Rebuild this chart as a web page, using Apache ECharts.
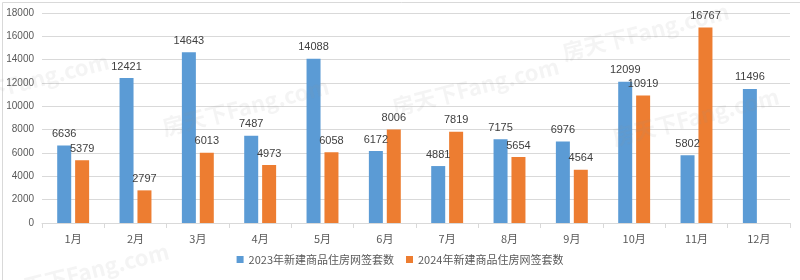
<!DOCTYPE html>
<html><head><meta charset="utf-8">
<script src="https://cdn.jsdelivr.net/npm/echarts@6/dist/echarts.min.js"></script>
<style>html,body{margin:0;padding:0;background:#fff}#c{width:800px;height:280px}</style>
</head><body><div id="c"></div>
<script>
const categories = ['1月','2月','3月','4月','5月','6月','7月','8月','9月','10月','11月','12月'];
const seriesNames = ['2023年新建商品住房网签套数','2024年新建商品住房网签套数'];
const values2023 = [6636,12421,14643,7487,14088,6172,4881,7175,6976,12099,5802,11496];
const values2024 = [5379,2797,6013,4973,6058,8006,7819,5654,4564,10919,16767,null];
const yTicks = [0,2000,4000,6000,8000,10000,12000,14000,16000,18000];

const chart = echarts.init(document.getElementById('c'));
const font = '"Noto Sans CJK SC", sans-serif';
const wm = (x,y,r)=>({type:'text',left:x,top:y,rotation:r,silent:true,z:100,
  style:{text:'房天下Fang.com',fill:'rgba(150,150,150,0.10)',font:'bold 22px "Noto Sans CJK SC", sans-serif'}});
chart.setOption({
  animation:false,
  textStyle:{fontFamily:font},
  grid:{left:42,right:10,top:13,bottom:57,containLabel:false},
  legend:{bottom:10,left:'center',itemWidth:7,itemHeight:7,itemGap:12,icon:'rect',
    textStyle:{color:'#595959',fontSize:11,fontFamily:font},data:seriesNames},
  xAxis:{type:'category',data:categories,
    axisLine:{lineStyle:{color:'#d9d9d9'}},
    axisTick:{show:true,length:5,lineStyle:{color:'#d9d9d9'}},
    axisLabel:{color:'#595959',fontSize:11,margin:10}},
  yAxis:{type:'value',min:yTicks[0],max:yTicks[yTicks.length-1],interval:2000,
    axisLine:{show:false},axisTick:{show:false},
    splitLine:{lineStyle:{color:'#d9d9d9'}},
    axisLabel:{color:'#595959',fontSize:10,margin:8,fontFamily:'"Liberation Sans", sans-serif',
      formatter:v=>String(v)}},
  series:[
    {name:seriesNames[0],type:'bar',data:values2023,barWidth:14,barGap:'28%',
     itemStyle:{color:'#5B9BD5'},
     label:{show:true,position:'top',distance:6,color:'#404040',fontSize:11,fontFamily:'"Liberation Sans", sans-serif'}},
    {name:seriesNames[1],type:'bar',data:values2024,barWidth:14,
     itemStyle:{color:'#ED7D31'},
     label:{show:true,position:'top',distance:6,color:'#404040',fontSize:11,fontFamily:'"Liberation Sans", sans-serif'}}
  ],
  graphic:[
    {type:'rect',left:0,top:0,silent:true,shape:{x:0.5,y:0.5,width:799,height:278},style:{fill:'none',stroke:'#d9d9d9',lineWidth:1}},
    wm(160,75,0.25), wm(390,55,0.25), wm(610,85,0.25), wm(0,240,0.25), wm(560,0,0.25), wm(-60,50,0.25)
  ]
});
</script></body></html>
